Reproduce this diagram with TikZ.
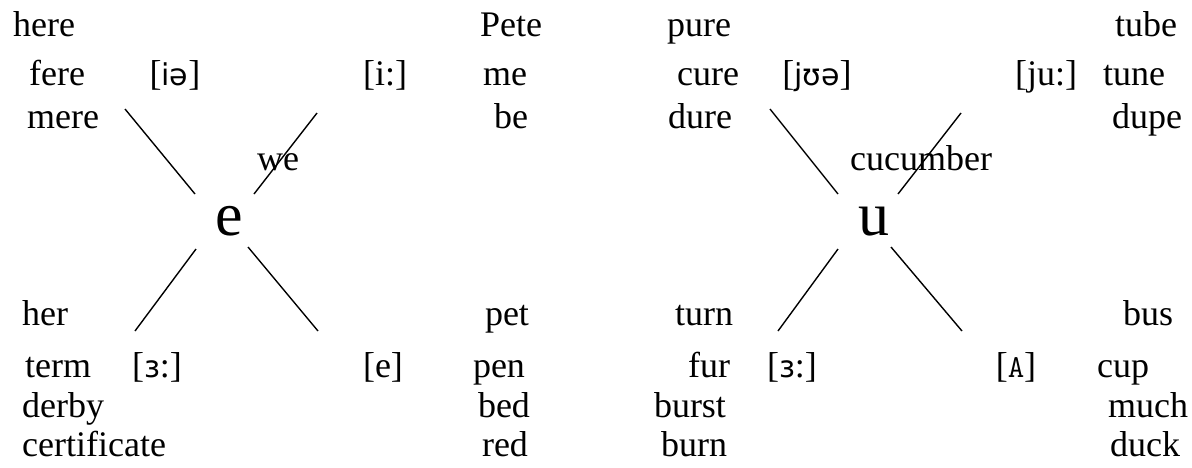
\documentclass[tikz,border=0pt]{standalone}
\usepackage{fontspec}
\setmainfont{Liberation Serif}
\newfontfamily\ipafont{DejaVu Sans}
\newcommand{\ipa}[1]{{\ipafont\fontsize{30}{34}\selectfont #1}}
\newcommand{\monoA}{{\ttfamily\fontsize{32}{34}\selectfont A}}
\begin{document}
\begin{tikzpicture}[x=1pt,y=-1pt,
  w/.style={inner sep=0pt,anchor=base,font=\fontsize{36}{42}\selectfont},
  big/.style={inner sep=0pt,anchor=base,font=\fontsize{62}{70}\selectfont},
  ln/.style={line width=1.4pt}]
\useasboundingbox (0,0) rectangle (1192,467);
% left block
\node[w,anchor=base west] (here) at (13,36) {here};
\node[w] (pete) at (511,36) {Pete};
\node[w,anchor=base west] (fere) at (29,85) {fere};
\node[w] (ia) at (175,85) {[\ipa{iə}]};
\node[w] (ii) at (385,85) {[i:]};
\node[w] (me) at (505,85) {me};
\node[w,anchor=base west] (mere) at (27,128) {mere};
\node[w] (be) at (511,128) {be};
\node[w] (we) at (278,170) {we};
\node[big] (e) at (229,235) {e};
\node[w,anchor=base west] (her) at (22,325) {her};
\node[w] (pet) at (507,325) {pet};
\node[w,anchor=base west] (term) at (25,377) {term};
\node[w] (er) at (157,377) {[\ipa{ɜ}:]};
\node[w] (ee) at (383,377) {[e]};
\node[w] (pen) at (499,377) {pen};
\node[w,anchor=base west] (derby) at (22,417) {derby};
\node[w] (bed) at (504,417) {bed};
\node[w,anchor=base west] (cert) at (22,456) {certificate};
\node[w] (red) at (505,456) {red};
% right block
\node[w] (pure) at (699,36) {pure};
\node[w] (tube) at (1146,36) {tube};
\node[w] (cure) at (708,85) {cure};
\node[w] (jua) at (817,85) {[\ipa{jʊə}]};
\node[w] (juu) at (1046,85) {[ju:]};
\node[w] (tune) at (1134,85) {tune};
\node[w] (dure) at (700,128) {dure};
\node[w] (dupe) at (1147,128) {dupe};
\node[w] (cucumber) at (921,170) {cucumber};
\node[big] (u) at (874,235) {u};
\node[w] (turn) at (704,325) {turn};
\node[w] (bus) at (1148,325) {bus};
\node[w] (fur) at (709,377) {fur};
\node[w] (er2) at (792,377) {[\ipa{ɜ}:]};
\node[w] (uh) at (1016,377) {[\monoA]};
\node[w] (cup) at (1123,377) {cup};
\node[w] (burst) at (690,417) {burst};
\node[w] (much) at (1148,417) {much};
\node[w] (burn) at (694,456) {burn};
\node[w] (duck) at (1145,456) {duck};
% connector end points
\coordinate (eTLo) at (125,109); \coordinate (eTLi) at (195,194);
\coordinate (eTRo) at (317,113); \coordinate (eTRi) at (254,194);
\coordinate (eBLi) at (196,249); \coordinate (eBLo) at (135,331);
\coordinate (eBRi) at (248,247); \coordinate (eBRo) at (318,331);
\coordinate (uTLo) at (770,109); \coordinate (uTLi) at (838,194);
\coordinate (uTRo) at (961,113); \coordinate (uTRi) at (898,194);
\coordinate (uBLi) at (838,249); \coordinate (uBLo) at (778,331);
\coordinate (uBRi) at (891,247); \coordinate (uBRo) at (962,331);
\draw[ln] (eTLo) -- (eTLi);
\draw[ln] (eTRo) -- (eTRi);
\draw[ln] (eBLi) -- (eBLo);
\draw[ln] (eBRi) -- (eBRo);
\draw[ln] (uTLo) -- (uTLi);
\draw[ln] (uTRo) -- (uTRi);
\draw[ln] (uBLi) -- (uBLo);
\draw[ln] (uBRi) -- (uBRo);
\end{tikzpicture}
\end{document}
